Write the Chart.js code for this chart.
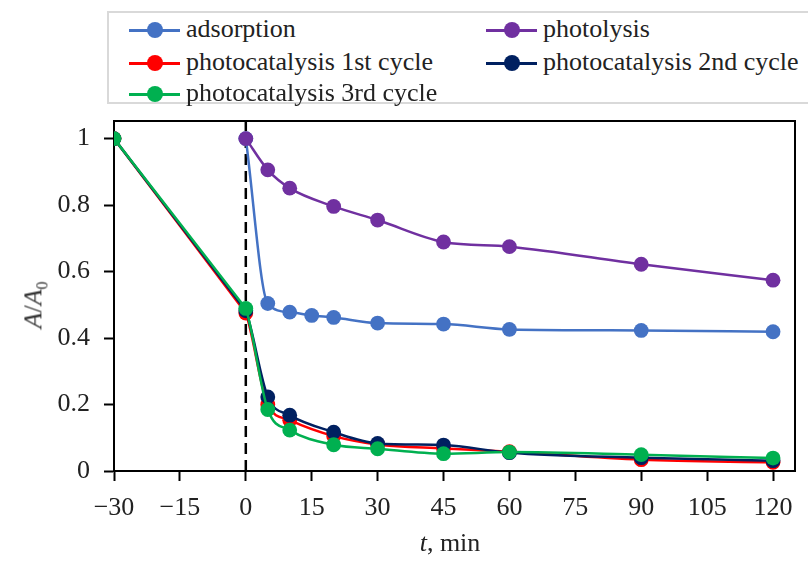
<!DOCTYPE html>
<html>
<head>
<meta charset="utf-8">
<script src="https://cdn.jsdelivr.net/npm/chart.js@4.4.1/dist/chart.umd.min.js"></script>
<style>
  html, body { margin: 0; padding: 0; background: #fff; }
  #wrap { position: relative; width: 808px; height: 561px; overflow: hidden; font-family: "Liberation Serif", serif; color: #222; }
  #c { position: absolute; left: 0; top: 0; }
  #legend { position: absolute; left: 107px; top: 11px; width: 720px; height: 93px; border: 2px solid #d9d9d9; box-sizing: border-box; background: #fff; }
  .item { position: absolute; height: 20px; font-size: 26px; line-height: 20px; white-space: nowrap; }
  .sym { position: absolute; left: 0; top: 9px; width: 51px; height: 2.5px; }
  .dot { position: absolute; left: 18px; top: 2px; width: 16px; height: 16px; border-radius: 50%; }
  .lbl { position: absolute; left: 57px; top: -1px; }
  .ytitle { position: absolute; left: 35px; top: 305px; transform: translate(-50%, -50%) rotate(-90deg); font-size: 26px; white-space: nowrap; color: #333; }
  .xtitle { position: absolute; left: 450px; top: 543px; transform: translate(-50%, -50%); font-size: 26px; white-space: nowrap; }
</style>
</head>
<body>
<div id="wrap">
  <canvas id="c" width="808" height="561"></canvas>
  <div id="legend"></div>
  <div class="ytitle"><i>A</i>/<i>A</i><sub style="font-size:16px">0</sub></div>
  <div class="xtitle"><i>t</i>, min</div>
</div>
<script>
// ---- data ----
const seriesNames = ["adsorption", "photolysis", "photocatalysis 1st cycle", "photocatalysis 2nd cycle", "photocatalysis 3rd cycle"];
const seriesColors = ["#4472C4", "#7030A0", "#FF0000", "#002060", "#00B050"];

const adsorptionT = [0, 5, 10, 15, 20, 30, 45, 60, 90, 120];
const adsorptionY = [1.0, 0.504, 0.478, 0.468, 0.462, 0.445, 0.442, 0.426, 0.423, 0.419];

const photolysisT = [0, 5, 10, 20, 30, 45, 60, 90, 120];
const photolysisY = [1.0, 0.906, 0.851, 0.796, 0.755, 0.689, 0.675, 0.622, 0.574];

const cycleT = [-30, 0, 5, 10, 20, 30, 45, 60, 90, 120];
const cycle1Y = [1.0, 0.475, 0.200, 0.153, 0.105, 0.080, 0.068, 0.058, 0.034, 0.026];
const cycle2Y = [1.0, 0.482, 0.223, 0.168, 0.117, 0.083, 0.078, 0.055, 0.040, 0.031];
const cycle3Y = [1.0, 0.489, 0.185, 0.123, 0.079, 0.067, 0.052, 0.057, 0.049, 0.039];

const xTicks = [-30, -15, 0, 15, 30, 45, 60, 75, 90, 105, 120];
const yTicks = [0, 0.2, 0.4, 0.6, 0.8, 1];

// ---- build ----
const pts = (t, y) => t.map((v, i) => ({ x: v, y: y[i] }));
const seriesData = [pts(adsorptionT, adsorptionY), pts(photolysisT, photolysisY), pts(cycleT, cycle1Y), pts(cycleT, cycle2Y), pts(cycleT, cycle3Y)];
const drawOrder = [5, 4, 3, 2, 1];
const isCycle = [false, false, true, true, true];

const datasets = [];
seriesNames.forEach((n, i) => {
  const d = seriesData[i];
  // dark period segment (-30 -> 0) drawn as a plain line
  if (isCycle[i]) {
    datasets.push({
      label: '_pre' + i,
      data: d.slice(0, 2),
      borderColor: seriesColors[i],
      borderWidth: 2.5,
      pointRadius: 0,
      tension: 0.05,
      order: drawOrder[i] + 0.5
    });
  }
  datasets.push({
    label: n,
    data: d,
    borderColor: seriesColors[i],
    backgroundColor: seriesColors[i],
    pointBackgroundColor: seriesColors[i],
    pointBorderColor: seriesColors[i],
    pointRadius: 7.4,
    pointBorderWidth: 0,
    borderWidth: 2.5,
    cubicInterpolationMode: 'monotone',
    segment: isCycle[i] ? { borderColor: ctx => ctx.p0DataIndex === 0 ? 'rgba(0,0,0,0)' : undefined } : undefined,
    order: drawOrder[i]
  });
});
datasets.push({
  label: '_divider',
  data: [{ x: 0, y: 0 }, { x: 0, y: 1.06 }],
  borderColor: '#000',
  borderWidth: 2.5,
  borderDash: [11, 6],
  pointRadius: 0,
  order: 10
});

// HTML legend
const legend = document.getElementById('legend');
const pos = [[20, 17], [377, 17], [20, 50], [377, 50], [20, 81]];
seriesNames.forEach((n, i) => {
  const d = document.createElement('div');
  d.className = 'item';
  d.style.left = pos[i][0] + 'px';
  d.style.top = (pos[i][1] - 10) + 'px';
  d.innerHTML = '<div class="sym" style="background:' + seriesColors[i] + '"></div><div class="dot" style="background:' + seriesColors[i] + '"></div><div class="lbl">' + n + '</div>';
  legend.appendChild(d);
});

const frame = {
  id: 'frame',
  afterDatasetsDraw(chart) {
    const a = chart.chartArea, ctx = chart.ctx;
    ctx.save();
    ctx.strokeStyle = '#000';
    ctx.lineWidth = 2;
    ctx.beginPath();
    ctx.moveTo(a.left, a.top); ctx.lineTo(a.right, a.top); ctx.lineTo(a.right, a.bottom);
    ctx.stroke();
    ctx.restore();
  }
};

const tickFont = { family: 'Liberation Serif', size: 26 };
new Chart(document.getElementById('c'), {
  type: 'line',
  data: { datasets },
  options: {
    responsive: false,
    animation: false,
    layout: { padding: { left: 0, top: 121, right: 13, bottom: 0 } },
    plugins: { legend: { display: false }, tooltip: { enabled: false } },
    scales: {
      x: {
        type: 'linear', min: -30, max: 125,
        afterFit(s) { s.height = 90; },
        afterBuildTicks(s) { s.ticks = xTicks.map(v => ({ value: v })); },
        ticks: { font: tickFont, color: '#222', padding: 12, maxRotation: 0, autoSkip: false,
          callback: v => v < 0 ? '\u2212' + Math.abs(v) : String(v) },
        grid: { drawOnChartArea: false, drawTicks: true, tickLength: 10, tickColor: '#000', tickWidth: 2 },
        border: { display: true, color: '#000', width: 2 }
      },
      y: {
        type: 'linear', min: 0, max: 1.053,
        afterFit(s) { s.width = 114; },
        afterBuildTicks(s) { s.ticks = yTicks.map(v => ({ value: v })); },
        ticks: { font: tickFont, color: '#222', padding: 14, callback: v => String(Math.round(v * 10) / 10) },
        grid: { drawOnChartArea: false, drawTicks: true, tickLength: 10, tickColor: '#000', tickWidth: 2 },
        border: { display: true, color: '#000', width: 2 }
      }
    }
  },
  plugins: [frame]
});
</script>
</body>
</html>
